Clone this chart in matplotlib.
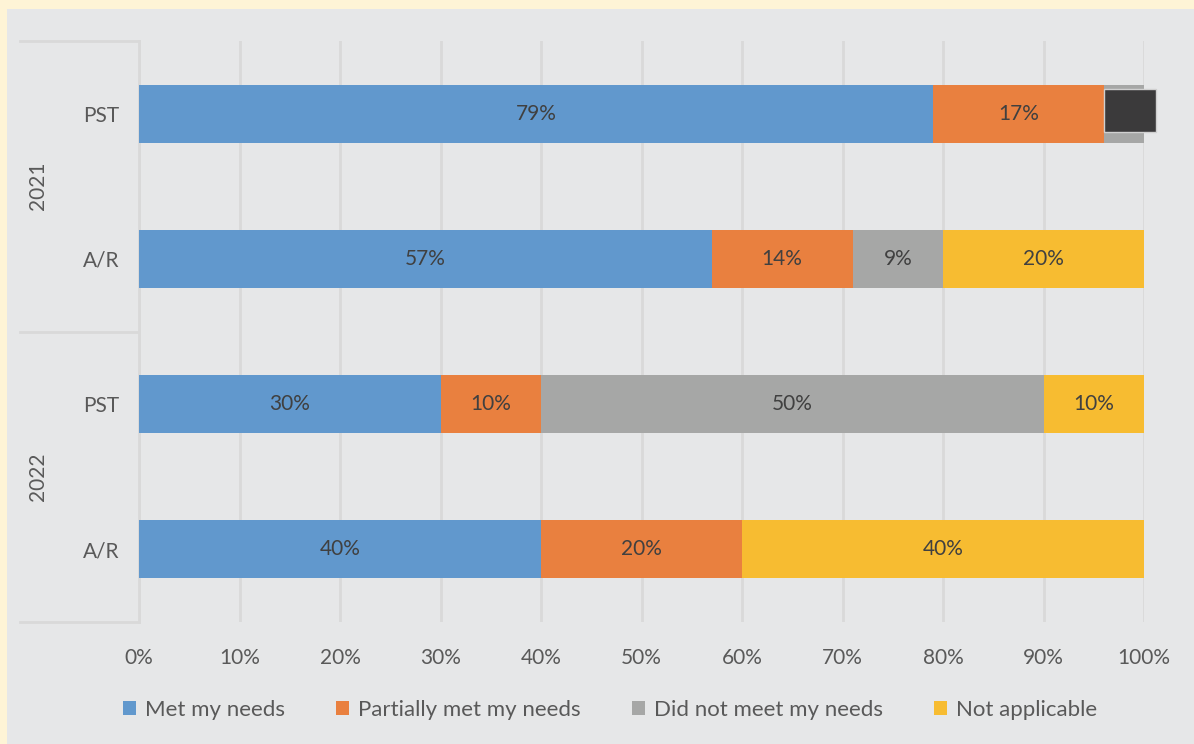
import matplotlib
matplotlib.use("Agg")
import matplotlib.pyplot as plt
from matplotlib.patches import Patch, Rectangle
import numpy as np

# survey responses, top to bottom
groups = ["2021", "2022"]
categories = ["PST", "A/R", "PST", "A/R"]
series = ["Met my needs", "Partially met my needs", "Did not meet my needs", "Not applicable"]
met = [79, 57, 30, 40]
partial = [17, 14, 10, 20]
not_met = [4, 9, 50, 0]
not_applicable = [0, 20, 10, 40]

colors = ["#6198cd", "#e9803f", "#a6a7a6", "#f7bc31"]
bg = "#e6e7e8"
grid_c = "#d9d9d9"
txt = "#595959"
fs = 15
plt.rcParams["font.family"] = ["Lato", "DejaVu Sans"]

fig = plt.figure(figsize=(11.94, 7.44), dpi=100, facecolor="#fef4d6")
# grey panel inset from the cream border on the top and left
fig.patches.append(Rectangle((7 / 1194, 0), 1, 1 - 9 / 744, transform=fig.transFigure,
                             facecolor=bg, edgecolor="none", zorder=-5))

ax = fig.add_axes([139 / 1194, 122 / 744, 1005 / 1194, 581 / 744])
ax.set_zorder(2)
ax.set_facecolor(bg)

y = np.arange(len(categories))
left = np.zeros(len(categories))
for vals, name, c in zip([met, partial, not_met, not_applicable], series, colors):
    vals = np.array(vals, dtype=float)
    ax.barh(y, vals, left=left, height=0.4, color=c, label=name, zorder=3)
    for yi, l, v in zip(y, left, vals):
        if v <= 0:
            continue
        if v < 5:
            # small segment label sits in a dark callout box
            ax.text(l + v / 2 + 0.6, yi - 0.02, f"{v:.0f}%", ha="center", va="center",
                    fontsize=fs, color="#3b3a3b", zorder=5,
                    bbox=dict(boxstyle="square,pad=0.55", facecolor="#3b3a3b",
                              edgecolor="#d0d0d0", linewidth=1))
        else:
            ax.text(l + v / 2, yi, f"{v:.0f}%", ha="center", va="center", fontsize=fs,
                    color="#404040", zorder=4)
    left += vals

ax.set_xlim(0, 100)
ax.set_ylim(3.5, -0.5)
ax.set_xticks(np.arange(0, 101, 10))
ax.set_xticklabels([f"{t}%" for t in range(0, 101, 10)])
ax.set_yticks(y)
ax.set_yticklabels(categories)
ax.tick_params(axis="x", length=0, pad=19, labelsize=fs, labelcolor=txt)
ax.tick_params(axis="y", length=0, pad=14, labelsize=fs, labelcolor=txt)
ax.xaxis.grid(True, color=grid_c, linewidth=2, zorder=0)
ax.set_axisbelow(True)
for s in ["top", "right", "bottom"]:
    ax.spines[s].set_visible(False)
ax.spines["left"].set_color(grid_c)
ax.spines["left"].set_linewidth(2)

# group separators and year labels on the category axis
x0 = (20 - 139) / 1005
for yy in [-0.5, 1.5, 3.5]:
    ax.plot([x0, 0], [yy, yy], color=grid_c, linewidth=2,
            transform=ax.get_yaxis_transform(), clip_on=False)
for i, g in enumerate(groups):
    ax.text((38 - 139) / 1005, 2 * i + 0.5, g, rotation=90, ha="center", va="center",
            fontsize=fs, color=txt, transform=ax.get_yaxis_transform())

handles = [Patch(facecolor=c, edgecolor="none") for c in colors]
fig.legend(handles, series, loc="center", bbox_to_anchor=(610 / 1194, 1 - 710 / 744),
           ncol=4, frameon=False, fontsize=16, labelcolor=txt, handlelength=0.6,
           handleheight=0.6, handletextpad=0.4, columnspacing=2.3)

fig.savefig("out.png", dpi=100, facecolor=fig.get_facecolor())
